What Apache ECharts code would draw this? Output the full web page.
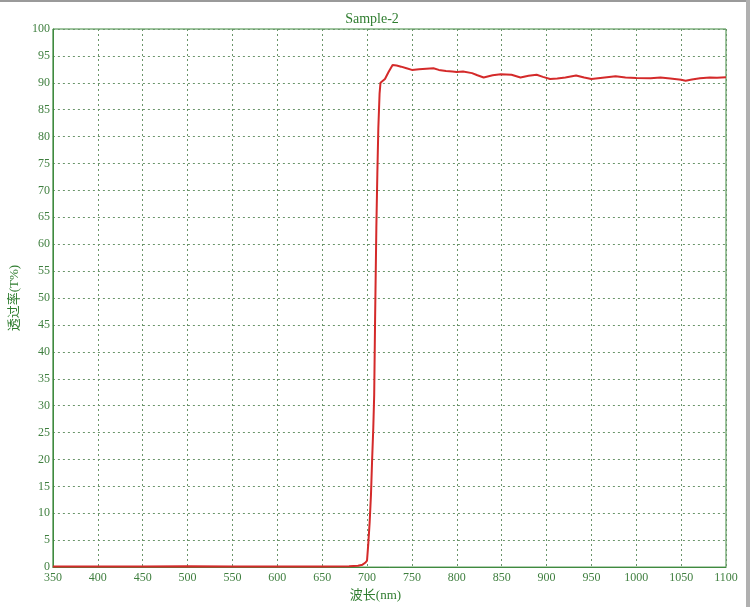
<!DOCTYPE html>
<html>
<head>
<meta charset="utf-8">
<script src="https://cdn.jsdelivr.net/npm/echarts@6/dist/echarts.min.js"></script>
<style>html,body{margin:0;padding:0;background:#fff;}#c{width:750px;height:607px;}</style>
</head>
<body>
<div id="c"></div>
<script>
var title = 'Sample-2';
var xName = '波长(nm)';
var yName = '透过率(T%)';
var wavelengths = [350,400,450,500,550,600,650,680,690,695,698,700,701.5,703,704.4,705.6,707,708,709,710.4,711.5,712.6,714,715,716.5,720,724,728.5,733,738,744,750,758,766,774,780,788,795,800,807,817,823,830,840,849,861,871,880,889,896,904,912,921,933,942,950,960,977,988,1000,1016,1027,1038,1050,1055,1062,1071,1082,1090,1100];
var transmittance = [0.1,0.1,0.1,0.15,0.1,0.1,0.1,0.15,0.25,0.45,0.8,1.2,4.5,8.5,13.4,19.5,25.9,32,46,63,73,81.5,88,90,90.3,90.7,92,93.3,93.2,93.0,92.7,92.4,92.5,92.6,92.7,92.4,92.2,92.1,92.0,92.1,91.8,91.4,91.0,91.4,91.6,91.5,91.0,91.3,91.5,91.1,90.7,90.8,91.0,91.35,91.0,90.7,90.9,91.2,91.0,90.9,90.85,91.0,90.8,90.55,90.4,90.6,90.85,91.0,90.95,91.05];

var green = '#3f8a3f';
var font = '"Liberation Serif", "Noto Sans CJK SC", serif';
var data = wavelengths.map(function(w, i){ return [w, transmittance[i]]; });

var chart = echarts.init(document.getElementById('c'), null, {renderer:'canvas'});
chart.setOption({
  animation: false,
  backgroundColor: '#fff',
  title: {
    text: title, left: 367, top: 7, textAlign: 'center',
    textStyle: {color: '#2f7d2f', fontFamily: font, fontSize: 14, fontWeight: 'normal'}
  },
  grid: {left: 51, right: 24, top: 29, bottom: 34, show: true, borderColor: green, borderWidth: 1},
  xAxis: {
    type: 'value', min: 350, max: 1100, interval: 50,
    name: xName, nameLocation: 'middle', nameGap: 21,
    nameTextStyle: {color: '#2f7d2f', fontFamily: font, fontSize: 13, padding: [0, 28, 0, 0]},
    axisLine: {show: true, lineStyle: {color: green, width: 1}},
    axisTick: {show: false},
    axisLabel: {color: '#3f7f3f', fontFamily: font, fontSize: 12, margin: 5, formatter: function(v){ return String(v); }},
    splitLine: {show: true, lineStyle: {color: '#6a956a', type: [2, 3], width: 1}}
  },
  yAxis: {
    type: 'value', min: 0, max: 100, interval: 5,
    name: yName, nameLocation: 'middle', nameGap: 28, nameRotate: 90,
    nameTextStyle: {color: '#2f7d2f', fontFamily: font, fontSize: 13},
    axisLine: {show: true, lineStyle: {color: green, width: 1}},
    axisTick: {show: false},
    axisLabel: {color: '#3f7f3f', fontFamily: font, fontSize: 12, margin: 3, formatter: function(v){ return String(v); }},
    splitLine: {show: true, lineStyle: {color: '#6a956a', type: [2, 3], width: 1}}
  },
  series: [{
    type: 'line', data: data, showSymbol: false, smooth: false,
    lineStyle: {color: '#d42a2a', width: 2},
    z: 5
  }],
  graphic: [
    {type: 'rect', shape: {x: 0, y: 0, width: 750, height: 2}, style: {fill: '#9a9a9a'}, silent: true},
    {type: 'rect', shape: {x: 746, y: 0, width: 4, height: 607}, style: {fill: '#b0b0b0'}, silent: true}
  ]
});
</script>
</body>
</html>
